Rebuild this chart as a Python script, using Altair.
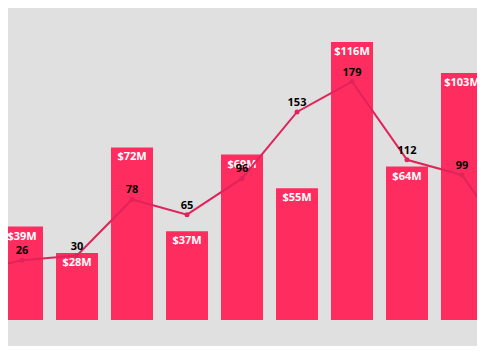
import altair as alt
import pandas as pd

# Data
bar_idx = [1, 2, 3, 4, 5, 6, 7, 8, 9]
bar_values = [39, 28, 72, 37, 69, 55, 116, 64, 103]  # $M
line_idx = [0, 1, 2, 3, 4, 5, 6, 7, 8, 9, 10]
line_values = [15, 26, 30, 78, 65, 96, 153, 179, 112, 99, 31]

bars_df = pd.DataFrame({"idx": bar_idx, "value": bar_values})
bars_df["label"] = ["$" + str(v) + "M" for v in bar_values]
line_df = pd.DataFrame({"idx": line_idx, "count": line_values})
line_df["label"] = [str(v) for v in line_values]

BAR_COLOR = "#ff2d5f"
LINE_COLOR = "#e0245a"
FONT = "Open Sans"

x_scale = alt.Scale(domain=[0.74545, 9.27273], nice=False, zero=False, padding=0)
y_bar = alt.Scale(domain=[-10.85, 130.16], nice=False, zero=False, padding=0)
y_line = alt.Scale(domain=[-47.5, 242.0], nice=False, zero=False, padding=0)

x_enc = alt.X("idx:Q", scale=x_scale, axis=None)

bars = alt.Chart(bars_df).mark_bar(size=42, color=BAR_COLOR, clip=True).encode(
    x=x_enc,
    y=alt.Y("value:Q", scale=y_bar, axis=None),
)
bar_text = alt.Chart(bars_df).mark_text(
    color="white", font=FONT, fontWeight="bold", fontSize=11,
    baseline="top", dy=4, clip=True,
).encode(
    x=x_enc,
    y=alt.Y("value:Q", scale=y_bar, axis=None),
    text="label:N",
)
bar_layer = alt.layer(bars, bar_text)

line = alt.Chart(line_df).mark_line(color=LINE_COLOR, strokeWidth=2, clip=True).encode(
    x=x_enc,
    y=alt.Y("count:Q", scale=y_line, axis=None),
)
pts = alt.Chart(line_df).mark_point(
    filled=True, color=LINE_COLOR, size=25, opacity=1, clip=True
).encode(
    x=x_enc,
    y=alt.Y("count:Q", scale=y_line, axis=None),
)
line_text = alt.Chart(line_df).mark_text(
    color="black", font=FONT, fontWeight="bold", fontSize=11,
    baseline="alphabetic", dy=-6, clip=True,
).encode(
    x=x_enc,
    y=alt.Y("count:Q", scale=y_line, axis=None),
    text="label:N",
)
line_layer = alt.layer(line, pts, line_text)

chart = alt.layer(bar_layer, line_layer).resolve_scale(y="independent").properties(
    width=469, height=338, padding=0, autosize="none", background="#e0e0e0"
).configure_view(stroke=None).configure_scale(continuousPadding=0)

chart.save("out.html", embed_options={"renderer": "svg", "actions": False})
